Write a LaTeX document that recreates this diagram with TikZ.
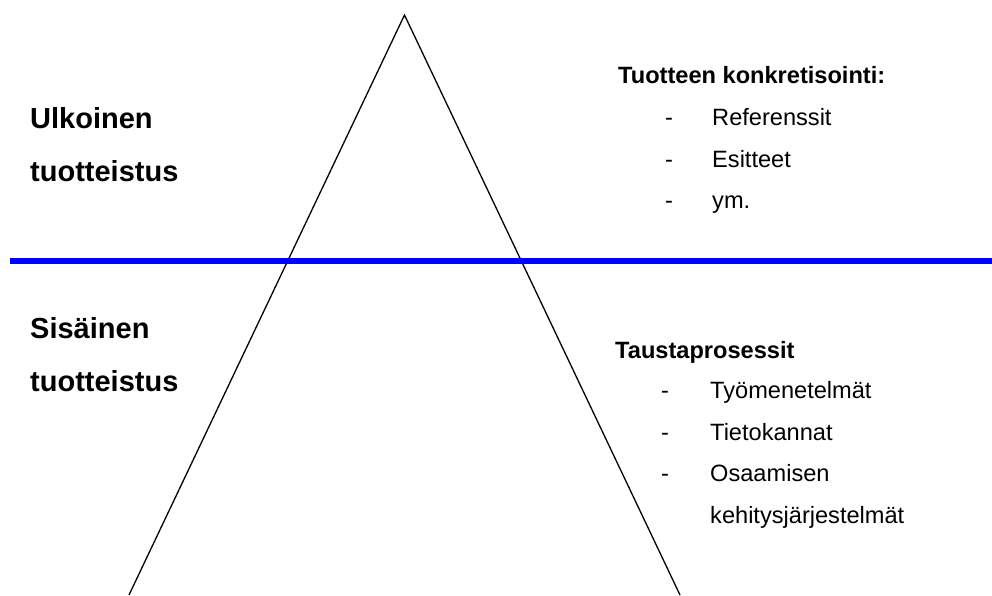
\documentclass[tikz,border=0pt]{standalone}
\usepackage{fontspec}
\setmainfont{Liberation Sans}
\definecolor{pureblue}{RGB}{0,0,255}
\begin{document}
\begin{tikzpicture}[x=1pt,y=-1pt,
  bigtxt/.style={anchor=base west,inner sep=0pt,font=\fontsize{29}{34}\selectfont\bfseries},
  headtxt/.style={anchor=base west,inner sep=0pt,font=\fontsize{23.6}{28}\selectfont\bfseries},
  itemtxt/.style={anchor=base west,inner sep=0pt,font=\fontsize{23.6}{28}\selectfont},
  legline/.style={line width=1.3pt,black},
  divider/.style={line width=5.7pt,pureblue}]
\useasboundingbox (0,0) rectangle (992,595);
% triangle
\coordinate (apex) at (404.5,15);
\coordinate (bl) at (129,595);
\coordinate (br) at (680,595);
\draw[legline,line join=miter] (bl) -- (apex) -- (br);
% divider
\coordinate (dl) at (10,261);
\coordinate (dr) at (992,261);
\draw[divider] (dl) -- (dr);
% left texts
\node[bigtxt] (u1) at (30,128) {Ulkoinen};
\node[bigtxt] (u2) at (30,181) {tuotteistus};
\node[bigtxt] (s1) at (30,338) {Sisäinen};
\node[bigtxt] (s2) at (30,391) {tuotteistus};
% upper right
\node[headtxt] (h1) at (618,83) {Tuotteen konkretisointi:};
\node[itemtxt] (d1) at (665,125) {-};
\node[itemtxt] (i1) at (712,125) {Referenssit};
\node[itemtxt] (d2) at (665,167) {-};
\node[itemtxt] (i2) at (712,167) {Esitteet};
\node[itemtxt] (d3) at (665,208) {-};
\node[itemtxt] (i3) at (712,208) {ym.};
% lower right
\node[headtxt] (h2) at (615,358) {Taustaprosessit};
\node[itemtxt] (e1) at (661,398) {-};
\node[itemtxt] (j1) at (710,398) {Työmenetelmät};
\node[itemtxt] (e2) at (661,440) {-};
\node[itemtxt] (j2) at (710,440) {Tietokannat};
\node[itemtxt] (e3) at (661,481) {-};
\node[itemtxt] (j3) at (710,481) {Osaamisen};
\node[itemtxt] (j4) at (710,523) {kehitysjärjestelmät};
\end{tikzpicture}
\end{document}
